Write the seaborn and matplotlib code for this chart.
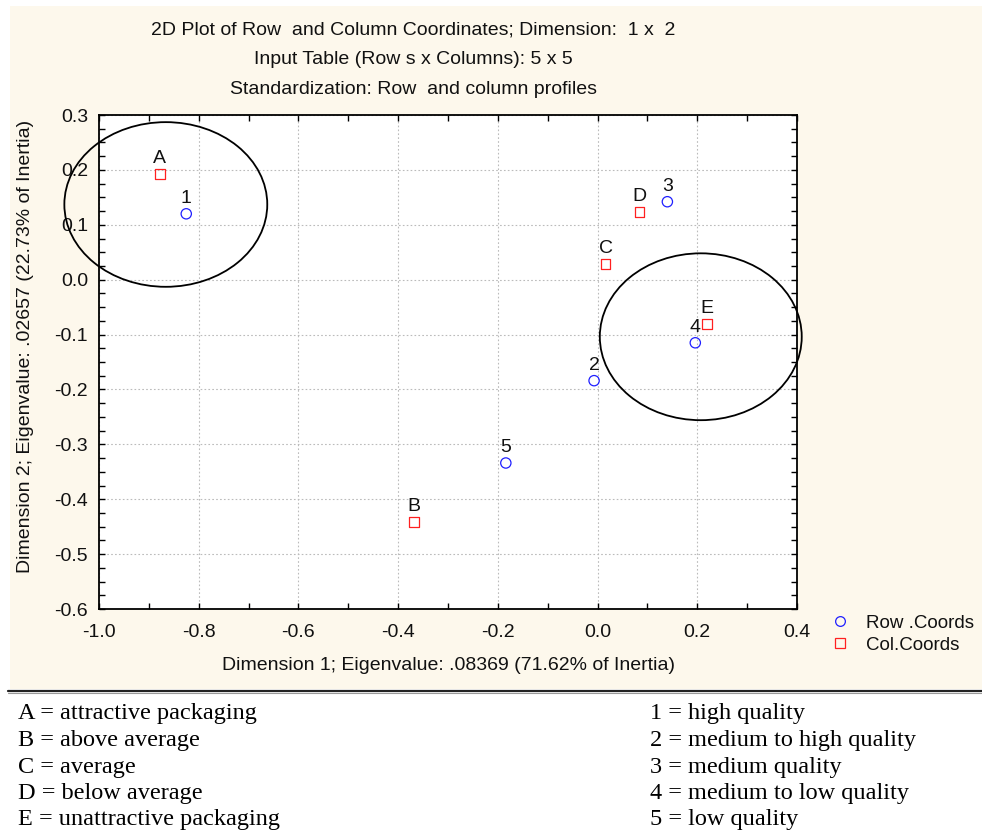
import matplotlib
matplotlib.use("Agg")
import matplotlib.pyplot as plt
import matplotlib.patches as mpatches
from matplotlib.lines import Line2D
from matplotlib.ticker import MultipleLocator
import seaborn as sns
import pandas as pd

# Row points (quality) and column points (packaging) of the correspondence analysis
row_labels = ["1", "2", "3", "4", "5"]
row_dim1 = [-0.825, -0.007, 0.140, 0.196, -0.184]
row_dim2 = [0.120, -0.184, 0.142, -0.115, -0.334]

col_labels = ["A", "B", "C", "D", "E"]
col_dim1 = [-0.878, -0.368, 0.016, 0.084, 0.219]
col_dim2 = [0.193, -0.441, 0.029, 0.123, -0.081]

# Groupings circled on the map: (centre x, centre y, width, height)
cluster_left = (-0.866, 0.137, 0.407, 0.300)
cluster_right = (0.207, -0.104, 0.405, 0.304)

x_ticks = [-1.0, -0.8, -0.6, -0.4, -0.2, 0.0, 0.2, 0.4]
y_ticks = [0.3, 0.2, 0.1, 0.0, -0.1, -0.2, -0.3, -0.4, -0.5, -0.6]

title_lines = [
    "2D Plot of Row  and Column Coordinates; Dimension:  1 x  2",
    "Input Table (Row s x Columns): 5 x 5",
    "Standardization: Row  and column profiles",
]
x_label = "Dimension 1; Eigenvalue: .08369 (71.62% of Inertia)"
y_label = "Dimension 2; Eigenvalue: .02657 (22.73% of Inertia)"

key_left = [
    "A = attractive packaging",
    "B = above average",
    "C = average",
    "D = below average",
    "E = unattractive packaging",
]
key_right = [
    "1 = high quality",
    "2 = medium to high quality",
    "3 = medium quality",
    "4 = medium to low quality",
    "5 = low quality",
]

sns.set_theme(style="white")
plt.rcParams["font.family"] = ["Liberation Sans", "DejaVu Sans"]

W, H = 982, 832
fig = plt.figure(figsize=(W / 100, H / 100), dpi=100, facecolor="white")

# cream panel behind the chart
cream = "#FDF8EC"
fig.patches.append(mpatches.Rectangle((10 / W, 1 - 689 / H), 972 / W, 683 / H,
                                      transform=fig.transFigure, facecolor=cream,
                                      edgecolor="none", zorder=-5))
fig.add_artist(Line2D([8 / W, 1.0], [1 - 690.5 / H] * 2, transform=fig.transFigure,
                      color="#222222", lw=1.6))
fig.add_artist(Line2D([8 / W, 1.0], [1 - 692.5 / H] * 2, transform=fig.transFigure,
                      color="#999999", lw=0.8))

ax = fig.add_axes([99 / W, 1 - 609 / H, (797 - 99) / W, (609 - 115) / H])
ax.set_facecolor("white")

rows = pd.DataFrame({"d1": row_dim1, "d2": row_dim2, "lab": row_labels})
cols = pd.DataFrame({"d1": col_dim1, "d2": col_dim2, "lab": col_labels})

blue = "#1F1FFF"
red = "#FF2020"
sns.scatterplot(data=rows, x="d1", y="d2", marker="o", s=55, ax=ax, zorder=4)
ax.collections[-1].set_facecolor("none")
ax.collections[-1].set_edgecolor(blue)
ax.collections[-1].set_linewidth(0.9)
sns.scatterplot(data=cols, x="d1", y="d2", marker="s", s=50, ax=ax, zorder=4)
ax.collections[-1].set_facecolor("none")
ax.collections[-1].set_edgecolor(red)
ax.collections[-1].set_linewidth(0.9)

for df in (rows, cols):
    for _, r in df.iterrows():
        ax.annotate(r["lab"], (r["d1"], r["d2"]), xytext=(0, 8),
                    textcoords="offset points", ha="center", va="baseline",
                    fontsize=14, color="#111111", zorder=5)

for cx, cy, w, h in (cluster_left, cluster_right):
    ax.add_patch(mpatches.Ellipse((cx, cy), w, h, facecolor="none",
                                  edgecolor="black", lw=1.3, clip_on=False, zorder=6))

ax.set_xlim(-1.0, 0.4)
ax.set_ylim(-0.6, 0.3)
ax.set_xticks(x_ticks)
ax.set_yticks(y_ticks)
ax.set_xticklabels([f"{v:.1f}" for v in x_ticks])
ax.set_yticklabels([f"{v:.1f}" for v in y_ticks])
ax.xaxis.set_minor_locator(MultipleLocator(0.1))
ax.yaxis.set_minor_locator(MultipleLocator(0.025))
ax.tick_params(which="both", direction="in", top=True, right=True, bottom=True,
               left=True, length=4, width=1, color="black", labelsize=14,
               labelcolor="#111111")
ax.tick_params(axis="x", which="major", pad=11)
ax.tick_params(axis="y", which="major", pad=8)
ax.grid(True, which="major", color="#BBBBBB", linestyle=(0, (1.5, 2)), lw=0.8)
for sp in ax.spines.values():
    sp.set_color("black")
    sp.set_linewidth(1.3)
    sp.set_visible(True)

ax.set_xlabel("")
ax.set_ylabel("")
fig.text(448 / W, 1 - 666 / H, x_label, ha="center", va="center", fontsize=14,
         color="#111111")
fig.text(26 / W, 1 - 346 / H, y_label, ha="center", va="center", fontsize=14,
         rotation=90, color="#111111")

for i, line in enumerate(title_lines):
    fig.text(413 / W, 1 - (30 + 29.5 * i) / H, line, ha="center", va="center",
             fontsize=14, color="#111111")

handles = [
    Line2D([], [], marker="o", ls="none", markerfacecolor="none",
           markeredgecolor=blue, markersize=7, markeredgewidth=0.9),
    Line2D([], [], marker="s", ls="none", markerfacecolor="none",
           markeredgecolor=red, markersize=6.5, markeredgewidth=0.9),
]
fig.legend(handles, ["Row .Coords", "Col.Coords"], loc="upper left",
           bbox_to_anchor=(812 / W, 1 - 598 / H), frameon=False, fontsize=13.5,
           handlelength=1.2, handletextpad=0.8, labelspacing=0.25,
           labelcolor="#111111")

for i, (l, r) in enumerate(zip(key_left, key_right)):
    y = 1 - (714 + 26.5 * i) / H
    fig.text(18 / W, y, l, ha="left", va="center", fontsize=17.5,
             family="Liberation Serif", color="black")
    fig.text(650 / W, y, r, ha="left", va="center", fontsize=17.5,
             family="Liberation Serif", color="black")

fig.savefig("out.png", dpi=100, facecolor="white")
